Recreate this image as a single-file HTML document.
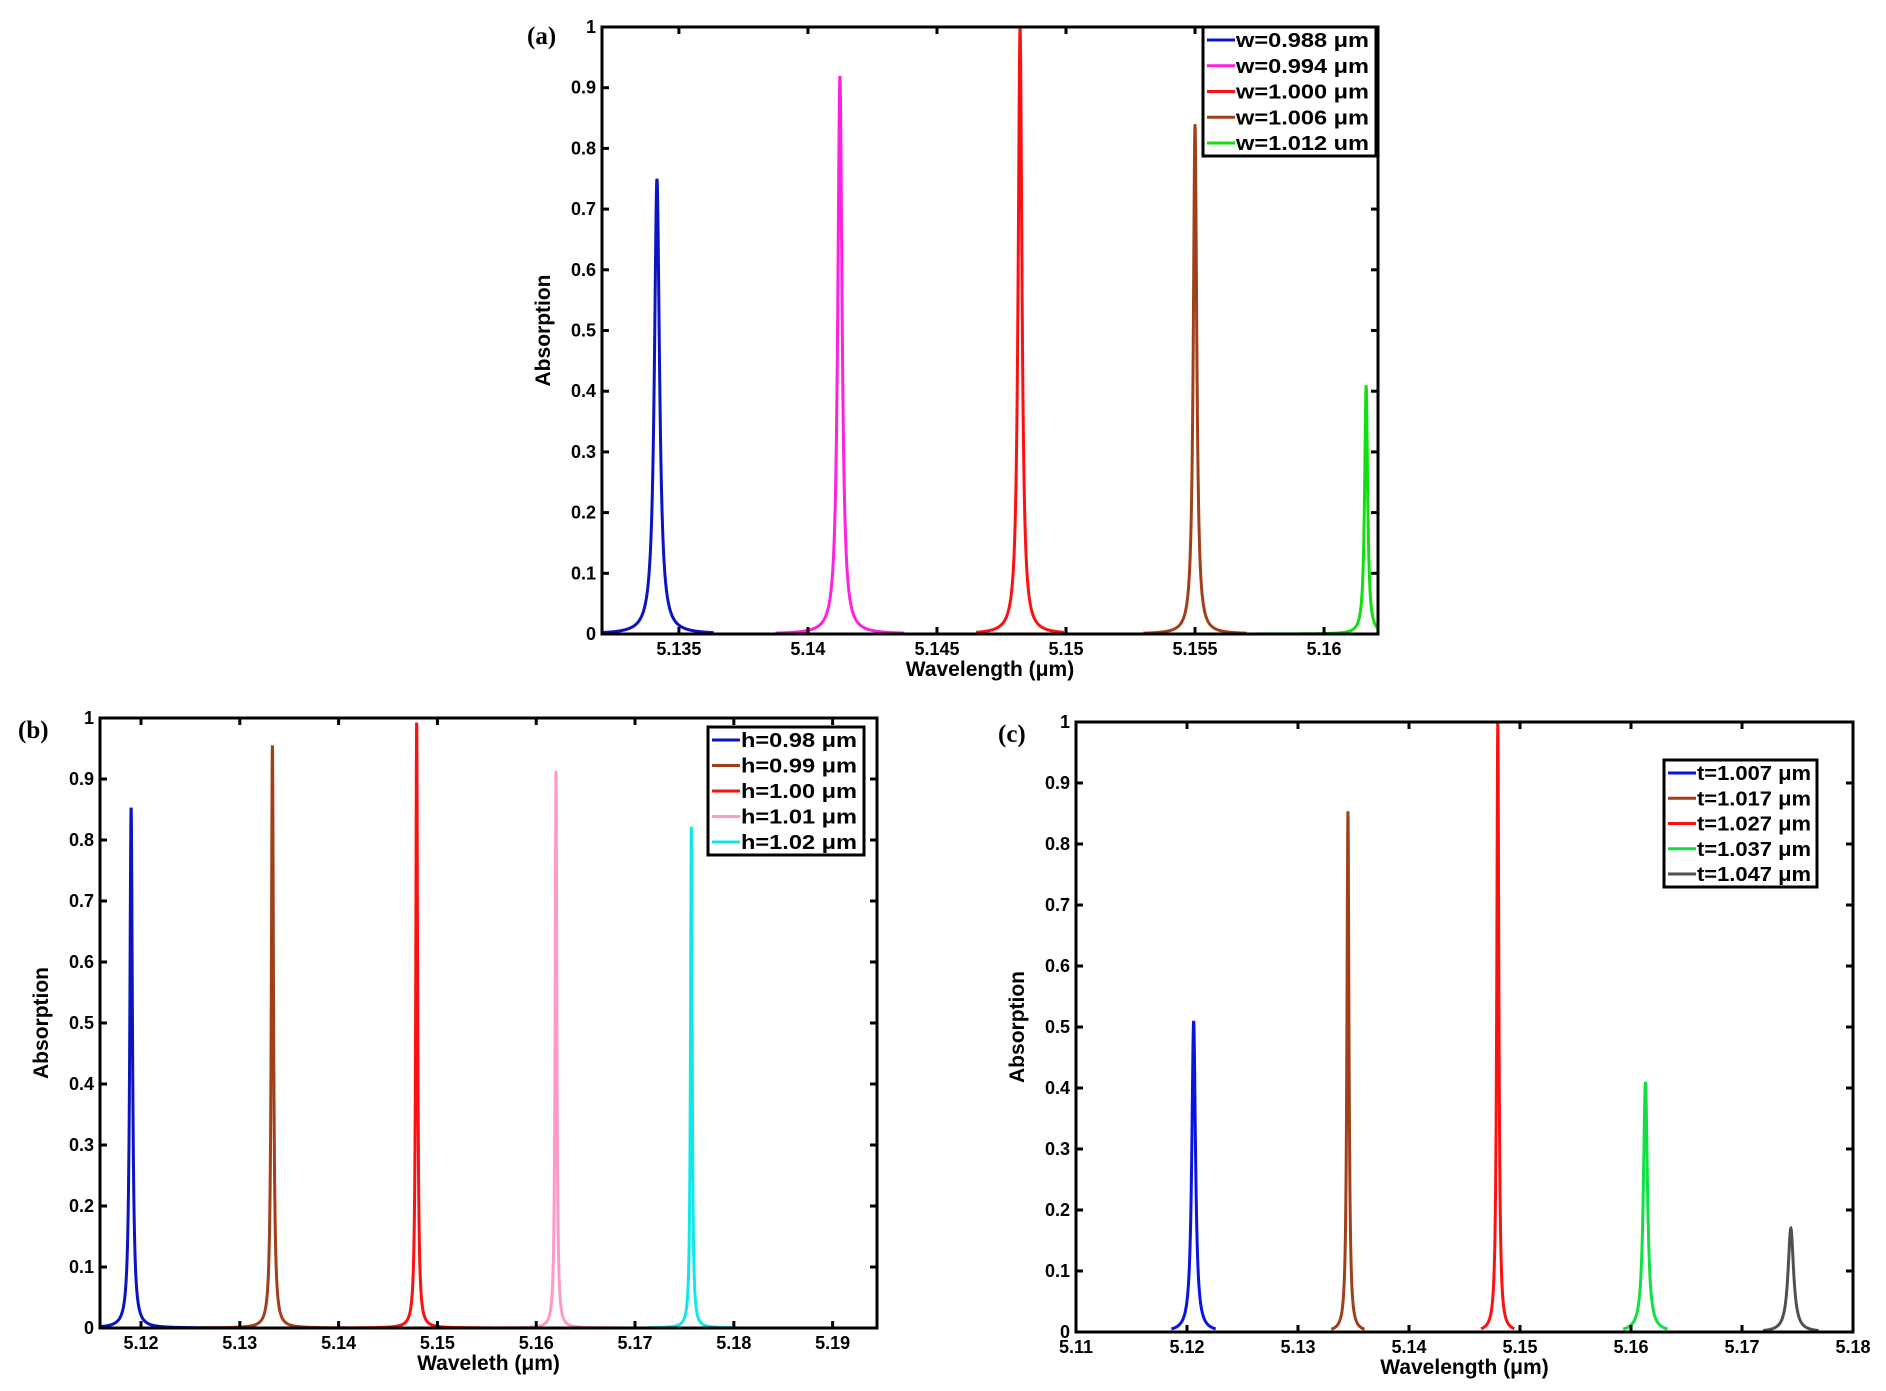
<!DOCTYPE html>
<html><head><meta charset="utf-8"><style>
html,body{margin:0;padding:0;background:#fff;}
svg{display:block;}
text{font-family:"Liberation Sans",sans-serif;font-weight:bold;fill:#000;}
.pl{font-family:"Liberation Serif",serif;font-size:25px;}
</style></head><body>
<svg id="s" width="1886" height="1391" xmlns="http://www.w3.org/2000/svg"></svg>
<script>
const s=document.getElementById('s');let h='';
function panel(o){
  const {L,R,T,B,x0,x1,xt,peaks,leg,lab,labx,laby,xl,lg,lgw}=o;
  const X=v=>L+(v-x0)/(x1-x0)*(R-L), Y=v=>B-v*(B-T);
  peaks.forEach(p=>{
    let d='';const w=p.w;
    const a=Math.max(L,X(p.c-p.span)), b=Math.min(R,X(p.c+p.span));
    for(let xx=a;xx<=b;xx+=0.2){const v=x0+(xx-L)/(R-L)*(x1-x0);const y=p.h/(1+Math.pow((v-p.c)/w,2));
      d+=(d?'L':'M')+xx.toFixed(2)+','+Y(y).toFixed(2);}
    h+=`<path d="${d}" fill="none" stroke="${p.col}" stroke-width="3"/>`;
  });
  h+=`<rect x="${L}" y="${T}" width="${R-L}" height="${B-T}" fill="none" stroke="#000" stroke-width="3"/>`;
  for(let i=0;i<=10;i++){const y=Y(i/10);
    h+=`<line x1="${L}" x2="${L+7}" y1="${y}" y2="${y}" stroke="#000" stroke-width="3"/><line x1="${R}" x2="${R-7}" y1="${y}" y2="${y}" stroke="#000" stroke-width="3"/>`;
    h+=`<text x="${L-6}" y="${y+6}" font-size="18" text-anchor="end">${i==0?'0':i==10?'1':'0.'+i}</text>`;}
  xt.forEach(t=>{const x=X(t);
    h+=`<line x1="${x}" x2="${x}" y1="${B}" y2="${B-7}" stroke="#000" stroke-width="3"/><line x1="${x}" x2="${x}" y1="${T}" y2="${T+7}" stroke="#000" stroke-width="3"/>`;
    h+=`<text x="${x}" y="${B+21}" font-size="18" text-anchor="middle">${t}</text>`;});
  h+=`<text x="${(L+R)/2}" y="${B+42}" font-size="21" text-anchor="middle">${xl}</text>`;
  h+=`<text transform="translate(${L-52},${(T+B)/2}) rotate(-90)" font-size="21" text-anchor="middle">Absorption</text>`;
  h+=`<text class="pl" x="${labx}" y="${laby}">${lab}</text>`;
  const [lx,ly,lw,lh]=lg;
  h+=`<rect x="${lx}" y="${ly}" width="${lw}" height="${lh}" fill="#fff" stroke="#000" stroke-width="3"/>`;
  leg.forEach((t,i)=>{const y=ly+13+i*(lh-26)/4;
    h+=`<line x1="${lx+4}" x2="${lx+32}" y1="${y}" y2="${y}" stroke="${peaks[i].col}" stroke-width="3"/>`;
    h+=`<text x="${lx+33}" y="${y+7}" font-size="20" textLength="${lgw}" lengthAdjust="spacingAndGlyphs">${t}</text>`;});
}
panel({L:602,R:1378,T:27,B:634,x0:5.13202,x1:5.16209,xt:[5.135,5.14,5.145,5.15,5.155,5.16],
 peaks:[{c:5.13415,h:.75,w:.00012,col:'#0a14c0',span:.0022},{c:5.14124,h:.92,w:.0001,col:'#ff20e0',span:.0025},{c:5.14822,h:1,w:.00009,col:'#ff1010',span:.0017},{c:5.1550,h:.84,w:.00008,col:'#a0401a',span:.002},{c:5.16163,h:.41,w:.00007,col:'#10e010',span:.006}],
 leg:['w=0.988 μm','w=0.994 μm','w=1.000 μm','w=1.006 μm','w=1.012 um'],lg:[1203,27,173,129],lgw:133,
 lab:'(a)',labx:527,laby:44,xl:'Wavelength (μm)'});
panel({L:100,R:877,T:718,B:1328,x0:5.11585,x1:5.19449,xt:[5.12,5.13,5.14,5.15,5.16,5.17,5.18,5.19],
 peaks:[{c:5.1190,h:.855,w:.00016,col:'#0a14c0',span:.009},{c:5.1333,h:.96,w:.00013,col:'#a0401a',span:.0075},{c:5.1479,h:1,w:.00011,col:'#ff1010',span:.0075},{c:5.1620,h:.915,w:.0001,col:'#ff99c8',span:.0070},{c:5.1757,h:.825,w:.0001,col:'#10e8e8',span:.0045}],
 leg:['h=0.98 μm','h=0.99 μm','h=1.00 μm','h=1.01 μm','h=1.02 μm'],lg:[708,727,156,128],lgw:116,
 lab:'(b)',labx:18,laby:738,xl:'Waveleth (μm)'});
panel({L:1076,R:1853,T:722,B:1332,x0:5.11,x1:5.18,xt:[5.11,5.12,5.13,5.14,5.15,5.16,5.17,5.18],
 peaks:[{c:5.1206,h:.51,w:.0002,col:'#0a14e0',span:.002},{c:5.1345,h:.855,w:.00011,col:'#a0401a',span:.0015},{c:5.148,h:1,w:.00011,col:'#ff1010',span:.0015},{c:5.1613,h:.41,w:.00022,col:'#10e040',span:.002},{c:5.1744,h:.17,w:.0003,col:'#505050',span:.0025}],
 leg:['t=1.007 μm','t=1.017 μm','t=1.027 μm','t=1.037 μm','t=1.047 μm'],lg:[1664,760,153,127],lgw:114,
 lab:'(c)',labx:998,laby:742,xl:'Wavelength (μm)'});
s.innerHTML=h;
</script>
</body></html>
